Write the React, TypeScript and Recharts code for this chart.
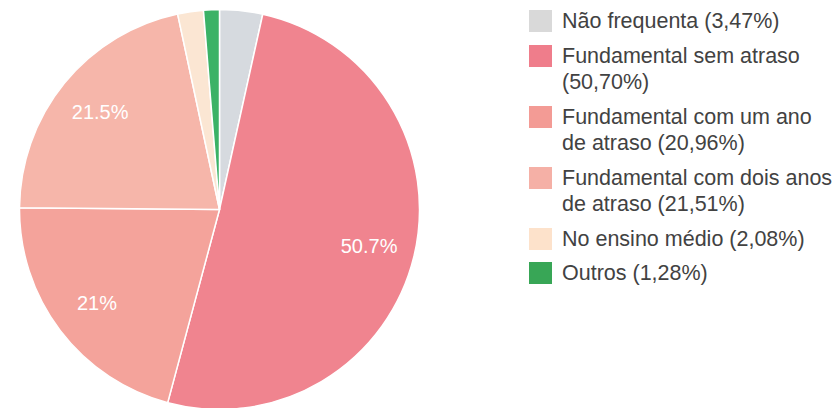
import { Cell, Legend, Pie, PieChart } from "recharts";

const categories = [
  "Não frequenta (3,47%)",
  "Fundamental sem atraso\n(50,70%)",
  "Fundamental com um ano\nde atraso (20,96%)",
  "Fundamental com dois anos\nde atraso (21,51%)",
  "No ensino médio (2,08%)",
  "Outros (1,28%)",
];
const shares = [3.47, 50.7, 20.96, 21.51, 2.08, 1.28];
// Google-style slice labels; tiny slices carry none.
const sliceLabels = ["", "50.7%", "21%", "21.5%", "", ""];
const sliceColors = ["#d6dadf", "#f0848f", "#f4a39b", "#f6b6aa", "#fbe6d3", "#3bb266"];
const swatchColors = ["#d9d9d9", "#ef7d8b", "#f39b95", "#f5b0a6", "#fde2cb", "#38a656"];

const data = categories.map((name, i) => ({ name, value: shares[i] }));
const RAD = Math.PI / 180;
const FONT = '"Liberation Sans", Arial, sans-serif';

function SliceLabel({ cx, cy, midAngle, outerRadius, index }: any) {
  const text = sliceLabels[index];
  if (!text) return null;
  const r = outerRadius * 0.77;
  const x = cx + r * Math.cos(-midAngle * RAD);
  const y = cy + r * Math.sin(-midAngle * RAD);
  return (
    <text x={x} y={y} fill="#fff" fontSize={20} fontFamily={FONT} textAnchor="middle" dominantBaseline="central">
      {text}
    </text>
  );
}

function LegendBox() {
  return (
    <div style={{ fontFamily: FONT, fontSize: 21.5, color: "#424242", lineHeight: "26.5px" }}>
      {categories.map((c, i) => (
        <div key={i} style={{ display: "flex", alignItems: "flex-start", marginBottom: 8 }}>
          <div
            style={{ width: 23, height: 22, marginTop: 2, marginRight: 10, flexShrink: 0, background: swatchColors[i] }}
          />
          <div style={{ whiteSpace: "pre-line" }}>{c}</div>
        </div>
      ))}
    </div>
  );
}

export default function App() {
  return (
    <div style={{ position: "absolute", left: 0, top: 0, width: 840, height: 408, background: "#fff" }}>
      <PieChart width={840} height={408} margin={{ top: 0, right: 0, bottom: 0, left: 0 }}>
        <Pie
          data={data}
          dataKey="value"
          nameKey="name"
          cx={219.5}
          cy={209.5}
          outerRadius={200}
          startAngle={90}
          endAngle={-270}
          stroke="#fff"
          strokeWidth={1.5}
          labelLine={false}
          label={<SliceLabel />}
          isAnimationActive={false}
        >
          {data.map((_, i) => (
            <Cell key={i} fill={sliceColors[i]} />
          ))}
        </Pie>
        <Legend
          content={<LegendBox />}
          wrapperStyle={{ position: "absolute", left: 529, top: 8, width: 311 }}
        />
      </PieChart>
    </div>
  );
}
